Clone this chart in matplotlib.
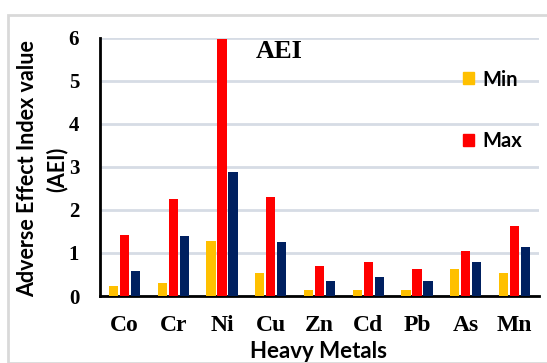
import matplotlib
matplotlib.use("Agg")
import matplotlib.pyplot as plt
from matplotlib.patches import Rectangle, Patch
import numpy as np

metals = ["Co", "Cr", "Ni", "Cu", "Zn", "Cd", "Pb", "As", "Mn"]
min_vals = [0.23, 0.31, 1.28, 0.54, 0.15, 0.15, 0.13, 0.62, 0.54]
max_vals = [1.41, 2.25, 5.97, 2.31, 0.70, 0.80, 0.62, 1.05, 1.62]
mean_vals = [0.57, 1.39, 2.87, 1.25, 0.36, 0.44, 0.36, 0.80, 1.13]
yticks = [0, 1, 2, 3, 4, 5, 6]

W, H = 547, 363
fig = plt.figure(figsize=(W / 100, H / 100), dpi=100)
fig.patch.set_facecolor("white")

# outer frame
fig.patches.append(Rectangle((8 / W, 0), 1.0, 1 - 15 / H, transform=fig.transFigure,
                             fill=False, edgecolor="#d9d9d9", linewidth=2))

ax = fig.add_axes([100 / W, 1 - 296 / H, (539 - 100) / W, (296 - 37.7) / H])
x = np.arange(len(metals))
bw = 0.19
off = 0.225
ax.bar(x - off, min_vals, bw, color="#FFC000", zorder=3)
ax.bar(x, max_vals, bw, color="#FF0000", zorder=3)
ax.bar(x + off, mean_vals, bw, color="#002060", zorder=3)

ax.set_xlim(-0.5, len(metals) - 0.5)
ax.set_ylim(0, 6)
ax.set_yticks(yticks)
ax.set_xticks(x)
ax.set_xticklabels(metals)
for s in ["top", "right"]:
    ax.spines[s].set_visible(False)
ax.spines["left"].set_linewidth(2)
ax.spines["bottom"].set_linewidth(2)
ax.yaxis.grid(True, color="#d6dce5", linewidth=2, zorder=0)
ax.tick_params(axis="both", length=0)
ax.tick_params(axis="y", pad=15)
ax.tick_params(axis="x", pad=14)
for lab in ax.get_yticklabels():
    lab.set_fontfamily("Liberation Serif")
    lab.set_fontweight("bold")
    lab.set_fontsize(15)
for lab in ax.get_xticklabels():
    lab.set_fontfamily("Liberation Serif")
    lab.set_fontweight("bold")
    lab.set_fontsize(17)

fig.text(28 / W, 1 - 169 / H, "Adverse Effect Index value", rotation=90,
         ha="center", va="center", fontsize=15.5, fontfamily="Lato", fontweight="bold")
fig.text(57 / W, 1 - 169 / H, "(AEI)", rotation=90,
         ha="center", va="center", fontsize=15.5, fontfamily="Lato", fontweight="bold")
fig.text(319 / W, 1 - 352 / H, "Heavy Metals", ha="center", va="center",
         fontsize=16, fontfamily="Lato", fontweight="bold")
fig.text(279 / W, 1 - 51 / H, "AEI", ha="center", va="center",
         fontsize=19, fontfamily="Liberation Serif", fontweight="bold")

handles = [Patch(color="#FFC000", label="Min"), Patch(color="#FF0000", label="Max")]
leg = fig.legend(handles=handles, loc="upper left", bbox_to_anchor=(463 / W, 1 - 69.5 / H),
                 frameon=False, prop={"family": "Lato", "weight": "bold", "size": 14.5},
                 labelspacing=2.05, handlelength=0.55, handleheight=0.55, handletextpad=0.4,
                 borderaxespad=0, borderpad=0)

fig.savefig("out.png", dpi=100)
